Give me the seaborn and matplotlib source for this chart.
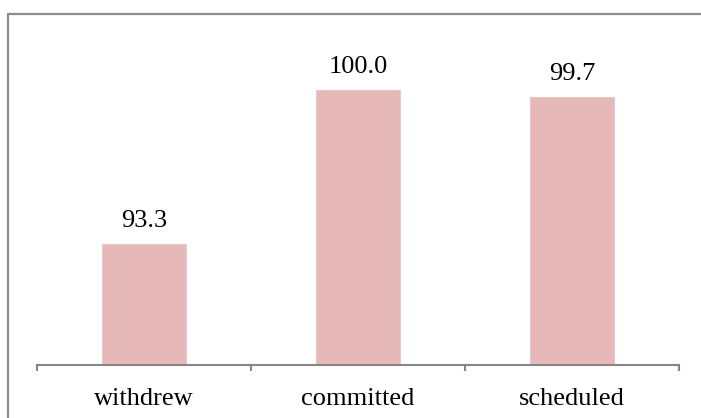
import matplotlib
matplotlib.use('Agg')
import matplotlib.pyplot as plt
import seaborn as sns
import pandas as pd
from matplotlib.lines import Line2D

# data
categories = ['withdrew', 'committed', 'scheduled']
values = [93.3, 100.0, 99.7]
labels = ['93.3', '100.0', '99.7']

df = pd.DataFrame({'status': categories, 'value': values})

sns.set_theme(style='white')
plt.rcParams['font.family'] = ['Liberation Serif', 'DejaVu Serif']

fig = plt.figure(figsize=(7.01, 4.18), dpi=100)
ax = fig.add_axes([37/701, 53/418, 642/701, 322/418])

sns.barplot(data=df, x='status', y='value', color='#E6B9B8', width=0.4,
            saturation=1, ax=ax)

ax.set_ylim(88, 102)
ax.set_xlim(-0.5, 2.5)
ax.set_xlabel('')
ax.set_ylabel('')
ax.set_yticks([])

for i, (v, t) in enumerate(zip(values, labels)):
    ax.annotate(t, (i, v), xytext=(0, 11.5), textcoords='offset points',
                ha='center', va='baseline', fontsize=19, color='black')

# gray baseline with tick marks between categories
for s in ['top', 'right', 'left']:
    ax.spines[s].set_visible(False)
ax.spines['bottom'].set_color('#868686')
ax.spines['bottom'].set_linewidth(1.5)
ax.tick_params(axis='x', which='major', length=0, pad=16.5, labelsize=19,
               labelcolor='black')
ax.set_xticks([-0.5, 0.5, 1.5, 2.5], minor=True)
ax.tick_params(axis='x', which='minor', length=4.5, width=1.5,
               color='#868686', direction='out', bottom=True)

# chart border (top and left edges visible in crop)
fig.add_artist(Line2D([8/701, 1], [1 - 14/418, 1 - 14/418],
                      transform=fig.transFigure, color='#8c8c8c', lw=1.6))
fig.add_artist(Line2D([8/701, 8/701], [0, 1 - 14/418],
                      transform=fig.transFigure, color='#8c8c8c', lw=1.6))

fig.savefig('out.png', dpi=100)
